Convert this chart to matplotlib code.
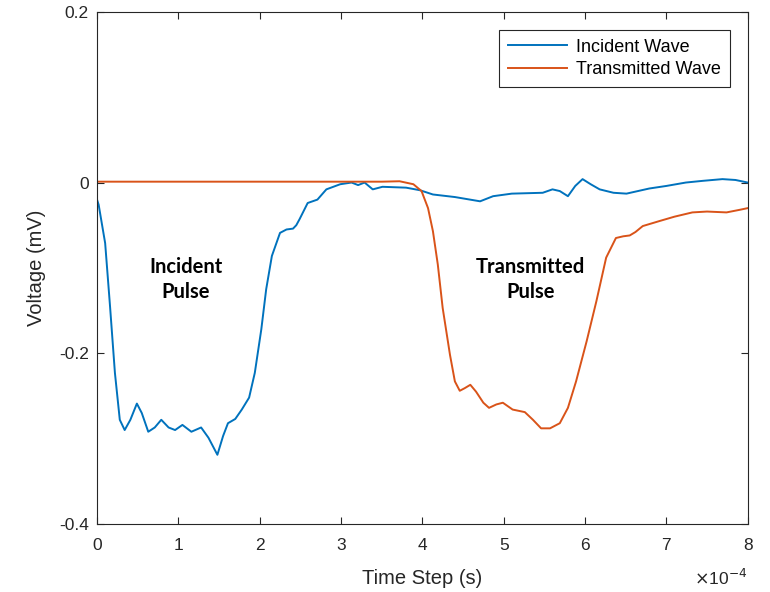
import numpy as np
import matplotlib
matplotlib.use("Agg")
import matplotlib.pyplot as plt
from matplotlib.ticker import FuncFormatter

plt.rcParams["font.family"] = ["Liberation Sans", "DejaVu Sans"]
plt.rcParams["axes.unicode_minus"] = False

# incident wave samples (time in units of 1e-4 s, voltage in mV)
t_inc = [0.0, 0.02, 0.10, 0.16, 0.22, 0.28, 0.34, 0.41, 0.49, 0.55, 0.63, 0.71,
         0.79, 0.88, 0.96, 1.05, 1.16, 1.28, 1.37, 1.48, 1.55, 1.61, 1.70, 1.78,
         1.87, 1.94, 2.02, 2.08, 2.15, 2.25, 2.33, 2.41, 2.45, 2.49, 2.59, 2.71,
         2.82, 2.99, 3.13, 3.21, 3.29, 3.39, 3.51, 3.80, 3.97, 4.13, 4.40, 4.71,
         4.87, 5.10, 5.48, 5.60, 5.69, 5.79, 5.88, 5.97, 6.07, 6.18, 6.35, 6.51,
         6.65, 6.79, 7.00, 7.24, 7.45, 7.69, 7.85, 8.00]
v_inc = [-0.020, -0.026, -0.071, -0.145, -0.223, -0.278, -0.290, -0.278, -0.259,
         -0.270, -0.292, -0.287, -0.278, -0.287, -0.290, -0.284, -0.292, -0.287,
         -0.299, -0.319, -0.297, -0.282, -0.277, -0.266, -0.252, -0.223, -0.172,
         -0.125, -0.086, -0.059, -0.055, -0.054, -0.050, -0.043, -0.024, -0.020,
         -0.008, -0.002, 0.000, -0.003, 0.000, -0.008, -0.005, -0.006, -0.009,
         -0.014, -0.017, -0.022, -0.016, -0.013, -0.012, -0.008, -0.010, -0.016,
         -0.004, 0.004, -0.002, -0.008, -0.012, -0.013, -0.010, -0.007, -0.004,
         0.000, 0.002, 0.004, 0.003, 0.000]

# transmitted wave samples
t_tr = [0.0, 0.5, 1.0, 1.5, 2.0, 2.5, 3.0, 3.5, 3.72, 3.89, 3.99, 4.07, 4.13,
        4.19, 4.25, 4.34, 4.40, 4.46, 4.52, 4.59, 4.66, 4.75, 4.82, 4.91, 4.99,
        5.11, 5.26, 5.36, 5.46, 5.57, 5.69, 5.79, 5.89, 6.02, 6.14, 6.26, 6.38,
        6.47, 6.55, 6.62, 6.71, 6.92, 7.10, 7.32, 7.50, 7.74, 7.90, 8.00]
v_tr = [0.001, 0.001, 0.001, 0.001, 0.001, 0.001, 0.001, 0.001, 0.0015, -0.002,
        -0.010, -0.030, -0.057, -0.096, -0.147, -0.202, -0.233, -0.244, -0.241,
        -0.237, -0.245, -0.258, -0.264, -0.260, -0.258, -0.266, -0.269, -0.278,
        -0.288, -0.288, -0.282, -0.264, -0.233, -0.186, -0.139, -0.088, -0.065,
        -0.063, -0.062, -0.058, -0.051, -0.045, -0.040, -0.035, -0.034, -0.035,
        -0.032, -0.030]

y_ticks = [-0.4, -0.2, 0.0, 0.2]
y_labels = ["-0.4", "-0.2", "0", "0.2"]

t_scale = 1e-4
blue = "#0072BD"
orange = "#D95319"
ink = "#262626"

fig = plt.figure(figsize=(7.7, 5.92), dpi=100)
ax = fig.add_axes([0.126, 0.115, 0.845, 0.865])

ax.plot(np.array(t_inc) * t_scale, v_inc, color=blue, lw=1.4, label="Incident Wave")
ax.plot(np.array(t_tr) * t_scale, v_tr, color=orange, lw=1.4, label="Transmitted Wave")

ax.set_xlim(0, 8e-4)
ax.set_ylim(-0.4, 0.2)
ax.set_xticks(np.arange(0, 9) * t_scale)
ax.xaxis.set_major_formatter(FuncFormatter(lambda v, p: f"{v / t_scale:g}"))
ax.set_yticks(y_ticks)
ax.set_yticklabels(y_labels)

ax.tick_params(direction="in", length=5, width=0.8, top=True, right=True,
               labelsize=12.5, colors=ink)
ax.tick_params(axis="x", pad=10)
ax.tick_params(axis="y", pad=6)
for s in ax.spines.values():
    s.set_color(ink)
    s.set_linewidth(0.8)

ax.set_xlabel("Time Step (s)", fontsize=14.5, color=ink, labelpad=12)
ax.set_ylabel("Voltage (mV)", fontsize=14.5, color=ink, labelpad=9)

# exponent for the time axis
ax.text(1.0, -0.119, r"$\times$10$^{-4}$", transform=ax.transAxes, ha="right",
        va="baseline", fontsize=12.5, color=ink)

leg = ax.legend(loc="upper right", bbox_to_anchor=(0.987, 0.983), fontsize=13,
                fancybox=False, edgecolor=ink, framealpha=1, handlelength=3.3,
                borderpad=0.5, labelspacing=0.3, handletextpad=0.5)
leg.get_frame().set_linewidth(0.8)

ax.text(1.09 * t_scale, -0.114, "Incident\nPulse", ha="center", va="center",
        fontsize=14.5, fontweight="bold", family=["Lato", "DejaVu Sans"],
        linespacing=1.3)
ax.text(5.33 * t_scale, -0.114, "Transmitted\nPulse", ha="center", va="center",
        fontsize=14.5, fontweight="bold", family=["Lato", "DejaVu Sans"],
        linespacing=1.3)

fig.savefig("out.png", dpi=100)
